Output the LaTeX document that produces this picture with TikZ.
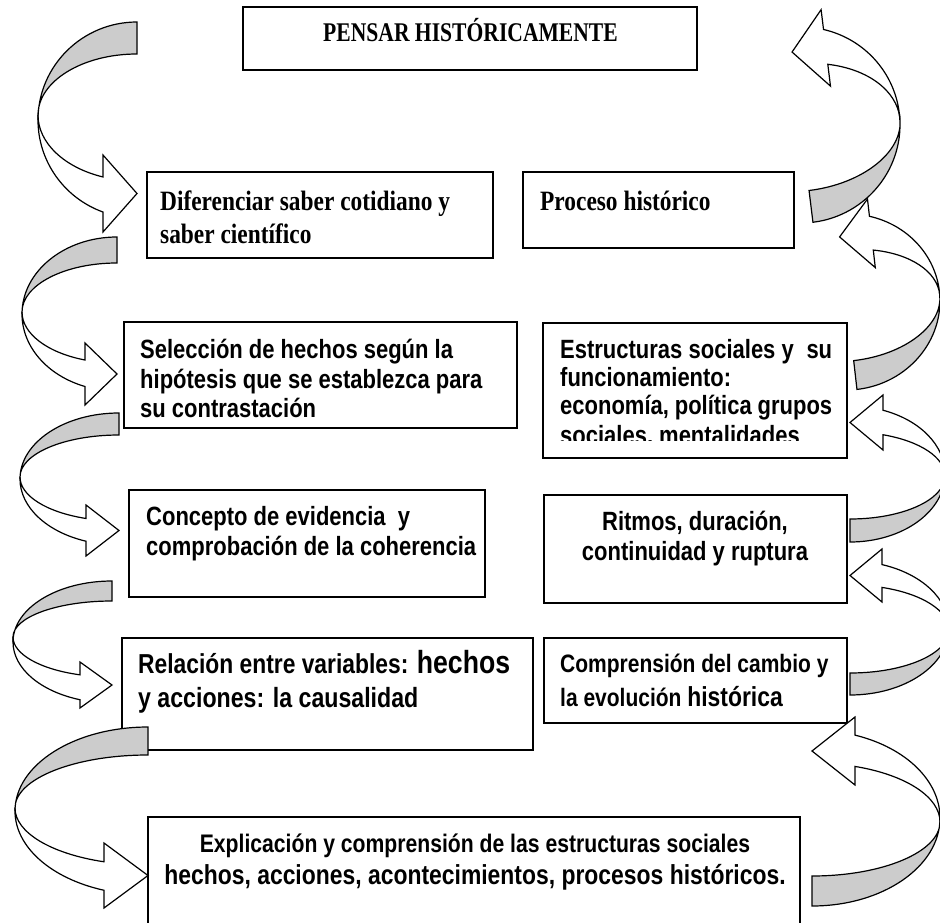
\documentclass[tikz,border=0pt]{standalone}
\usepackage{fontspec}
\newfontfamily\tnr[FakeStretch=0.835]{Liberation Serif}
\newfontfamily\tnrt[FakeStretch=0.80]{Liberation Serif}
\newfontfamily\ari[FakeStretch=0.833]{Liberation Sans}
\definecolor{bandgray}{HTML}{CCCCCC}
\tikzset{
  box/.style={draw=black, line width=1.2pt, fill=white, inner sep=0pt, outer sep=0pt, anchor=north west},
  backband/.style={draw=black, line width=1.2pt, fill=bandgray, line join=miter},
  frontband/.style={draw=black, line width=1.2pt, fill=white, line join=miter},
  sertxt/.style={font=\tnr\bfseries\fontsize{28}{32}\selectfont, inner sep=0pt, anchor=base west},
  titletxt/.style={font=\tnrt\bfseries\fontsize{27}{30}\selectfont, inner sep=0pt, anchor=base west},
  santxt/.style={font=\ari\bfseries\fontsize{26.4}{30}\selectfont, inner sep=0pt, anchor=base west},
  santxtc/.style={font=\ari\bfseries\fontsize{26.4}{30}\selectfont, inner sep=0pt, anchor=base},
}
% curved arrow in local frame: #1 a, #2 b, #3 thickness, #4 d2, #5 b3, #6 h, #7 barb1, #8 barb2
\newcommand{\cvarrow}[8]{%
  \pgfmathsetmacro\cvtheta{360-acos(-#6/#1)}%
  \pgfmathsetmacro\cvbtwo{#2-#3-#4}%
  \pgfmathsetmacro\cvey{#2*sin(\cvtheta)}%
  \pgfmathsetmacro\cvtip{(#7+#8)/2}%
  \filldraw[backband] (0,#2) arc[start angle=90,end angle=180,x radius=#1,y radius=#2]
     -- (-#1,#4) arc[start angle=180,end angle=90,x radius=#1,y radius=\cvbtwo] -- cycle;
  \filldraw[frontband] (-#1,#4) arc[start angle=180,end angle=\cvtheta,x radius=#1,y radius=#5]
     -- (-#6,#7) -- (0,\cvtip) -- (-#6,#8) -- (-#6,\cvey)
     arc[start angle=\cvtheta,end angle=180,x radius=#1,y radius=#2] -- cycle;
}
\begin{document}
\begin{tikzpicture}[x=1pt,y=1pt]
\useasboundingbox (0,0) rectangle (940,-923);
\fill[white] (0,0) rectangle (940,-923);

% boxes
\node[box, minimum width=454pt, minimum height=63pt] (b1) at (243,-7) {};
\node[box, minimum width=346pt, minimum height=86pt] (b2) at (147,-172) {};
\node[box, minimum width=271pt, minimum height=76pt] (b3) at (523,-172) {};
\node[box, minimum width=393pt, minimum height=106pt] (b4) at (124,-322) {};
\node[box, minimum width=304pt, minimum height=135pt] (b5) at (543,-323) {};
\node[box, minimum width=356pt, minimum height=107pt] (b6) at (129,-490) {};
\node[box, minimum width=303pt, minimum height=108pt] (b7) at (544,-495) {};
\node[box, minimum width=411pt, minimum height=112pt] (b8) at (122,-638) {};
\node[box, minimum width=303pt, minimum height=85pt] (b9) at (544,-638) {};
\node[box, minimum width=652pt, minimum height=108pt] (b10) at (148,-817) {};

% texts
\node[titletxt] (t1) at (323,-42) {PENSAR HISTÓRICAMENTE};
\node[sertxt] (t2a) at (160,-210) {Diferenciar saber cotidiano y};
\node[sertxt] (t2b) at (160,-243) {saber científico};
\node[sertxt] (t3) at (540,-210) {Proceso histórico};
\node[santxt] (t4a) at (140,-358) {Selección de hechos según la};
\node[santxt] (t4b) at (140,-388) {hipótesis que se establezca para};
\node[santxt] (t4c) at (140,-417) {su contrastación};
\begin{scope}
\clip (543,-323) rectangle (847,-440);
\node[santxt] (t5a) at (560,-358) {\hbox to 272pt{Estructuras\hfill sociales\hfill y\hfill\hfill su}};
\node[santxt] (t5b) at (560,-386) {funcionamiento:};
\node[santxt] (t5c) at (560,-414) {\hbox to 272pt{economía,\hfill política\hfill grupos}};
\node[santxt] (t5d) at (560,-444) {sociales, mentalidades};
\end{scope}
\node[santxt] (t6a) at (146,-525) {Concepto de evidencia\ \ y};
\node[santxt] (t6b) at (146,-555) {comprobación de la coherencia};
\node[santxtc] (t7a) at (695,-530) {Ritmos, duración,};
\node[santxtc] (t7b) at (695,-560) {continuidad y ruptura};
\node[santxt, font=\ari\bfseries\fontsize{27.4}{30}\selectfont] (t8a) at (138,-673) {Relación entre variables: {\fontsize{32}{30}\selectfont hechos}};
\node[santxt, font=\ari\bfseries\fontsize{27.8}{30}\selectfont] (t8b) at (138,-707) {y acciones: la causalidad};
\node[santxt, font=\ari\bfseries\fontsize{25.2}{30}\selectfont] (t9a) at (560,-672) {Comprensión del cambio y};
\node[santxt, font=\ari\bfseries\fontsize{25.2}{30}\selectfont] (t9b) at (560,-706) {la evolución {\fontsize{27.5}{30}\selectfont histórica}};
\node[santxtc, font=\ari\bfseries\fontsize{25.4}{30}\selectfont] (t10a) at (475,-852) {Explicación y comprensión de las estructuras sociales};
\node[santxtc, font=\ari\bfseries\fontsize{27.5}{30}\selectfont] (t10b) at (475,-884) {hechos, acciones, acontecimientos, procesos históricos.};

% left arrows
\begin{scope}[shift={(137,-120)}]\cvarrow{99}{98}{32}{5}{66}{34}{-35}{-112}\end{scope}
\begin{scope}[shift={(117,-314)}]\cvarrow{95}{77}{26}{2}{51}{32}{-29}{-91}\end{scope}
\begin{scope}[shift={(119,-479)}]\cvarrow{99}{66}{22}{2}{44}{33}{-26}{-77}\end{scope}
\begin{scope}[shift={(112,-642)}]\cvarrow{99}{61}{20}{5}{40}{32}{-20}{-66}\end{scope}
\begin{scope}[shift={(148,-811)}]\cvarrow{133}{84}{28}{3}{57}{44}{-32}{-97}\end{scope}

% right arrows
\begin{scope}[shift={(812,-818)}, rotate=180]\cvarrow{128}{88}{30}{4}{59}{43}{-33}{-101}\end{scope}
\begin{scope}[shift={(850,-628)}, rotate=180]\cvarrow{99}{67}{22}{2}{45}{32}{-26}{-79}\end{scope}
\begin{scope}[shift={(850,-474)}, rotate=180]\cvarrow{95}{68}{23}{2}{44}{33}{-24}{-79}\end{scope}
\begin{scope}[shift={(847,-302)}, rotate=186.5]\cvarrow{93}{88}{29}{3}{55}{32}{-31}{-100}\end{scope}
\begin{scope}[shift={(801,-125)}, rotate=187]\cvarrow{99}{98}{32}{5}{66}{34}{-35}{-112}\end{scope}
\end{tikzpicture}
\end{document}
